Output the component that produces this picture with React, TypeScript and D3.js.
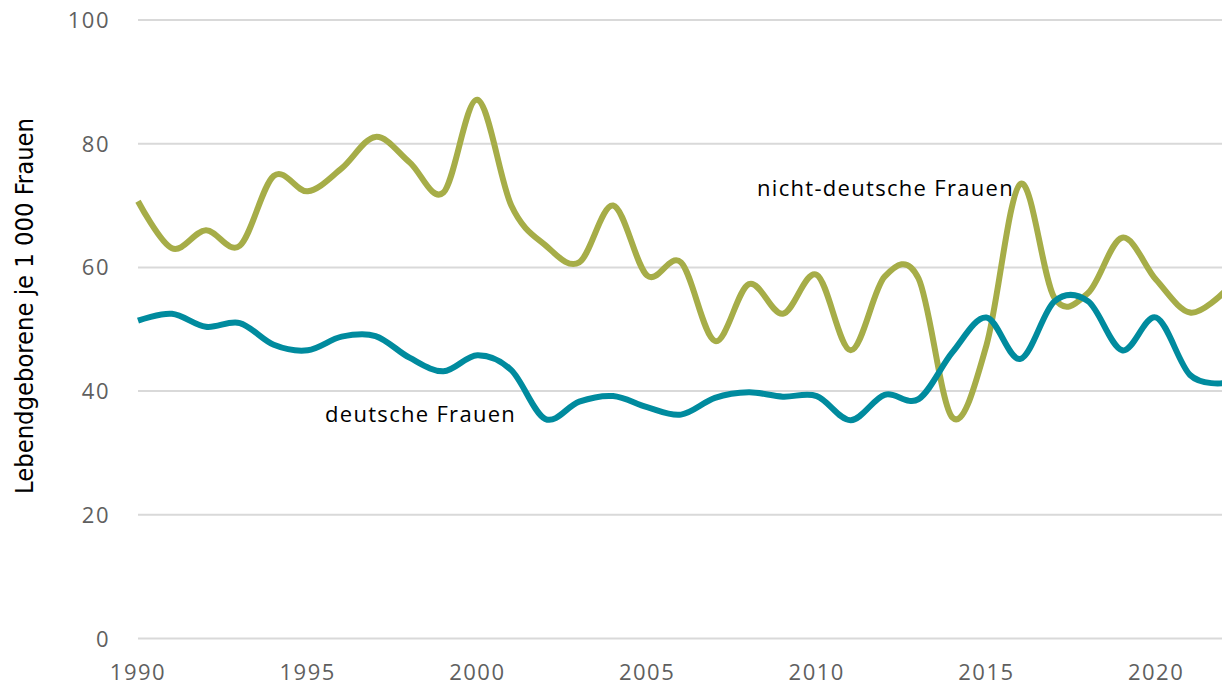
import React, { useEffect, useRef } from 'react';
import * as d3 from 'd3';

const years = d3.range(1990, 2023);

// Lebendgeborene je 1 000 Frauen
const deutsche = [
  51.4, 52.5, 50.4, 51.0, 47.5, 46.6, 48.8, 48.9, 45.4, 43.2,
  45.8, 43.4, 35.5, 38.3, 39.2, 37.4, 36.2, 38.9, 39.8, 39.1,
  39.2, 35.3, 39.4, 38.7, 46.3, 51.9, 45.2, 54.5, 54.5, 46.6,
  51.9, 42.6, 41.3,
];
const nichtDeutsche = [
  70.7, 63.1, 66.0, 63.5, 74.8, 72.3, 76.0, 81.1, 77.0, 72.1,
  87.1, 70.0, 63.6, 60.8, 70.0, 58.7, 60.8, 48.1, 57.3, 52.5,
  58.8, 46.6, 58.5, 58.2, 35.7, 47.4, 73.5, 55.1, 55.9, 64.8,
  58.0, 52.7, 56.0,
];

const yTicks = [0, 20, 40, 60, 80, 100];
const xTicks = [1990, 1995, 2000, 2005, 2010, 2015, 2020];

const W = 1222;
const H = 686;
const tickFont = '"Open Sans", "Noto Sans", sans-serif';

export default function App() {
  const ref = useRef<SVGSVGElement>(null);

  useEffect(() => {
    const svg = d3.select(ref.current);
    svg.selectAll('*').remove();

    const x = d3.scaleLinear().domain([1990, 2022]).range([138, 1224]);
    const y = d3.scaleLinear().domain([0, 100]).range([638.5, 20]);

    // grid
    svg.append('g')
      .selectAll('line')
      .data(yTicks)
      .join('line')
      .attr('x1', 138)
      .attr('x2', W)
      .attr('y1', (d) => y(d))
      .attr('y2', (d) => y(d))
      .attr('stroke', '#d9d9d9')
      .attr('stroke-width', 2);

    svg.append('g')
      .selectAll('text')
      .data(yTicks)
      .join('text')
      .attr('x', 110)
      .attr('y', (d) => y(d) + 8)
      .attr('text-anchor', 'end')
      .attr('font-family', tickFont)
      .attr('font-size', 22)
      .attr('letter-spacing', 1.5)
      .attr('fill', '#5f5f5f')
      .text((d) => d);

    svg.append('g')
      .selectAll('text')
      .data(xTicks)
      .join('text')
      .attr('x', (d) => x(d))
      .attr('y', 680)
      .attr('text-anchor', 'middle')
      .attr('font-family', tickFont)
      .attr('font-size', 22)
      .attr('letter-spacing', 1.5)
      .attr('fill', '#5f5f5f')
      .text((d) => d);

    svg.append('text')
      .attr('transform', 'translate(33,306) rotate(-90)')
      .attr('text-anchor', 'middle')
      .attr('font-family', '"Liberation Sans Narrow", "DejaVu Sans Condensed", "Noto Sans", sans-serif')
      .attr('font-size', 25)
      .attr('fill', '#000')
      .attr('textLength', 376)
      .attr('lengthAdjust', 'spacingAndGlyphs')
      .text('Lebendgeborene je 1 000 Frauen');

    const line = d3.line<number>()
      .x((_, i) => x(years[i]))
      .y((d) => y(d))
      .curve(d3.curveCardinal.tension(0));

    const plot = svg.append('g');
    plot.append('path')
      .attr('d', line(nichtDeutsche))
      .attr('fill', 'none')
      .attr('stroke', '#a6ad48')
      .attr('stroke-width', 6)
      .attr('stroke-linejoin', 'round');
    plot.append('path')
      .attr('d', line(deutsche))
      .attr('fill', 'none')
      .attr('stroke', '#008b9e')
      .attr('stroke-width', 6)
      .attr('stroke-linejoin', 'round');

    svg.append('text')
      .attr('x', 757)
      .attr('y', 196)
      .attr('font-family', tickFont)
      .attr('font-size', 22)
      .attr('letter-spacing', 1.3)
      .attr('fill', '#000')
      .text('nicht-deutsche Frauen');

    svg.append('text')
      .attr('x', 325)
      .attr('y', 422)
      .attr('font-family', tickFont)
      .attr('font-size', 22)
      .attr('letter-spacing', 1.3)
      .attr('fill', '#000')
      .text('deutsche Frauen');
  }, []);

  return (
    <svg
      ref={ref}
      width={W}
      height={H}
      style={{ position: 'absolute', left: 0, top: 0, background: '#fff' }}
    />
  );
}
